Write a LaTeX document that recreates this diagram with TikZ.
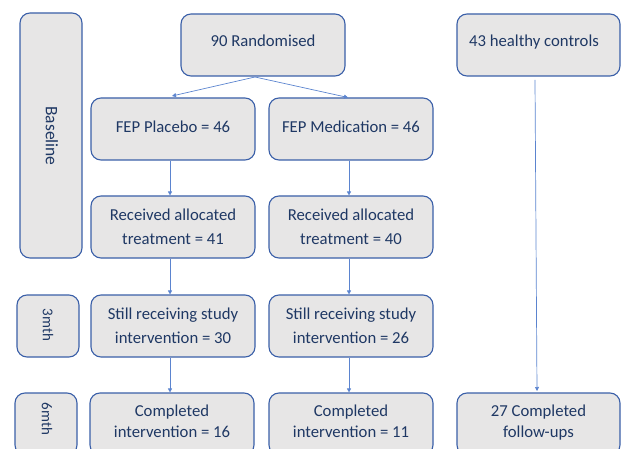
\documentclass[tikz,border=0pt]{standalone}
\usepackage{fontspec}
\setmainfont{Carlito}
\usetikzlibrary{arrows.meta}
\definecolor{boxfill}{HTML}{E7E6E6}
\definecolor{boxline}{HTML}{3A5FA8}
\definecolor{arrowc}{HTML}{5B84CF}
\definecolor{txtc}{HTML}{1F3864}
\begin{document}
\begin{tikzpicture}[x=1pt,y=-1pt,
  box/.style={draw=boxline,fill=boxfill,line width=1.1pt,rounded corners=10pt,
    minimum width=164pt,minimum height=62pt,inner sep=0pt,text=txtc,
    font=\fontsize{16.7}{24}\selectfont,align=center},
  sidebox/.style={box,minimum width=62pt},
  sidetext/.style={text=txtc,font=\fontsize{15}{16}\selectfont,rotate=-90},
  arr/.style={draw=arrowc,line width=0.7pt,-{Triangle[length=4pt,width=4pt]}}]
\clip (0,0) rectangle (621,449);
\useasboundingbox (0,0) rectangle (621,449);
\node[sidebox,minimum height=245pt] (base) at (51,135.5) {};
\node[sidetext,font=\fontsize{17.5}{24}\selectfont] (baset) at (52,136) {Baseline};
\node[box] (rand) at (263,45) {\raisebox{8pt}{90 Randomised}};
\node[box,minimum width=163pt] (hc) at (538.5,45) {};
\node[text=txtc,font=\fontsize{16.7}{24}\selectfont,anchor=west,inner sep=0pt] (hct) at (469,42) {43 healthy controls};
\node[box] (plac) at (173,129) {\raisebox{5pt}{FEP Placebo = 46}};
\node[box] (med) at (351,129) {\raisebox{5pt}{FEP Medication = 46}};
\node[box] (rec1) at (173,227) {Received allocated\\treatment = 41};
\node[box] (rec2) at (351,227) {Received allocated\\treatment = 40};
\node[sidebox] (m3) at (48,326) {};
\node[sidetext] (m3t) at (48,325) {3mth};
\node[box] (still1) at (173,326) {Still receiving study\\intervention = 30};
\node[box] (still2) at (351,326) {Still receiving study\\intervention = 26};
\node[sidebox] (m6) at (46,424) {};
\node[sidetext] (m6t) at (47,419) {6mth};
\node[box] (comp1) at (172,424) {\raisebox{6pt}{\shortstack{Completed\\[4pt]intervention = 16}}};
\node[box] (comp2) at (351,424) {\raisebox{6pt}{\shortstack{Completed\\[4pt]intervention = 11}}};
\node[box,minimum width=163pt] (fu) at (538.5,424) {\raisebox{6pt}{\shortstack{27 Completed\\[4pt]follow-ups}}};
\coordinate (rs) at (255,77);
\draw[arr] (rs) -- (172,96);
\draw[arr] (rs) -- (348,97.5);
\draw[arr] (plac.south -| 170,0) -- (rec1.north -| 170,0);
\draw[arr] (med.south -| 349,0) -- (rec2.north -| 349,0);
\draw[arr] (rec1.south -| 170,0) -- (still1.north -| 170,0);
\draw[arr] (rec2.south -| 349,0) -- (still2.north -| 349,0);
\draw[arr] (still1.south -| 170,0) -- (comp1.north -| 170,0);
\draw[arr] (still2.south -| 349,0) -- (comp2.north -| 349,0);
\draw[arr] (535,80) -- (537,391);
\end{tikzpicture}
\end{document}
